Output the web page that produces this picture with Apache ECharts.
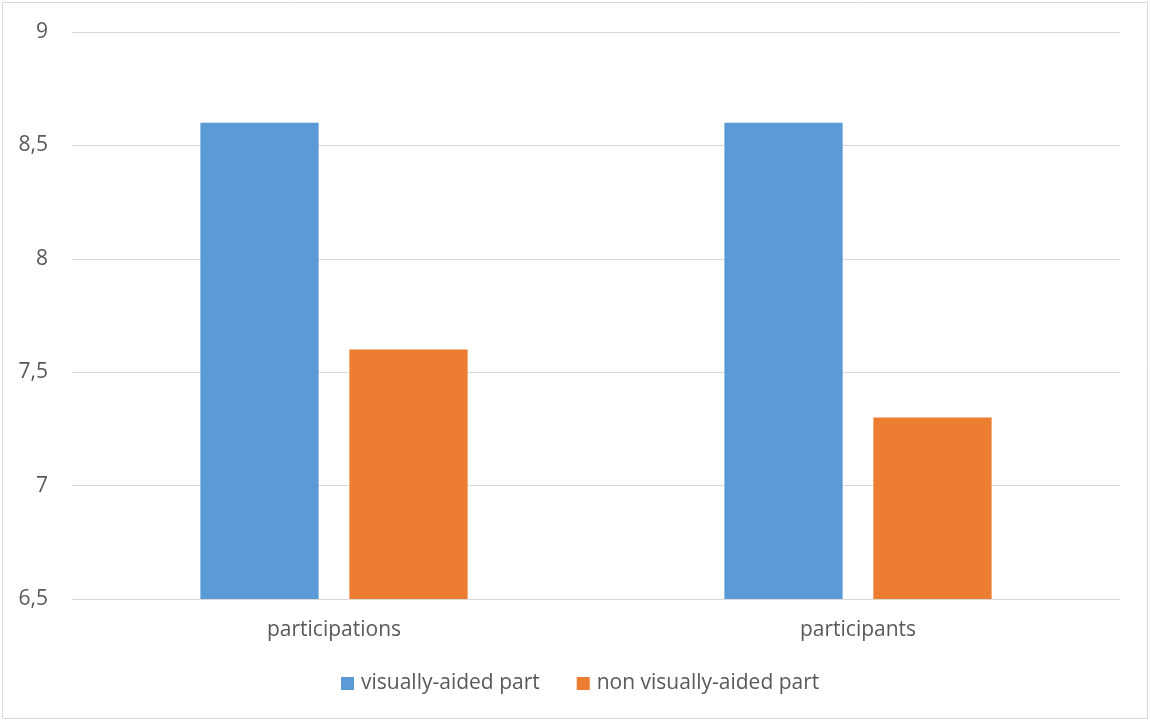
<!DOCTYPE html>
<html><head><meta charset="utf-8">
<script src="https://cdn.jsdelivr.net/npm/echarts@6/dist/echarts.min.js"></script>
<style>html,body{margin:0;padding:0;background:#fff}#c{width:1150px;height:722px}</style>
</head><body><div id="c"></div>
<script>
const categories = ['participations', 'participants'];
const visuallyAided = [8.6, 8.6];
const nonVisuallyAided = [7.6, 7.3];
const seriesNames = ['visually-aided part', 'non visually-aided part'];

const chart = echarts.init(document.getElementById('c'), null, {renderer: 'canvas'});
const font = 'Open Sans';
const fs = 21;
chart.setOption({
  animation: false,
  textStyle: {fontFamily: font},
  graphic: [{type: 'rect', shape: {x: 2.5, y: 2.5, width: 1145, height: 716}, style: {fill: 'none', stroke: '#d9d9d9', lineWidth: 1}, silent: true}],
  grid: {left: 72, right: 30, top: 32, bottom: 123, containLabel: false},
  legend: {
    bottom: 23, left: 336, itemWidth: 13, itemHeight: 13, itemGap: 37, icon: 'rect',
    textStyle: {fontFamily: font, fontSize: fs, color: '#595959', padding: [0, 0, 0, 2]},
    data: seriesNames
  },
  xAxis: {
    type: 'category', data: categories,
    axisLine: {show: true, lineStyle: {color: '#d9d9d9', width: 1}},
    axisTick: {show: false},
    axisLabel: {fontFamily: font, fontSize: fs, color: '#595959', margin: 21}
  },
  yAxis: {
    type: 'value', min: 6.5, max: 9, interval: 0.5,
    axisLine: {show: false}, axisTick: {show: false},
    splitLine: {lineStyle: {color: '#d9d9d9', width: 1}},
    axisLabel: {fontFamily: font, fontSize: fs, color: '#595959', margin: 24,
      formatter: v => String(v).replace('.', ',')}
  },
  series: [
    {name: seriesNames[0], type: 'bar', data: visuallyAided, barGap: '26%', barCategoryGap: '49%', itemStyle: {color: '#5b9bd5'}},
    {name: seriesNames[1], type: 'bar', data: nonVisuallyAided, itemStyle: {color: '#ed7d31'}}
  ]
});
</script></body></html>
